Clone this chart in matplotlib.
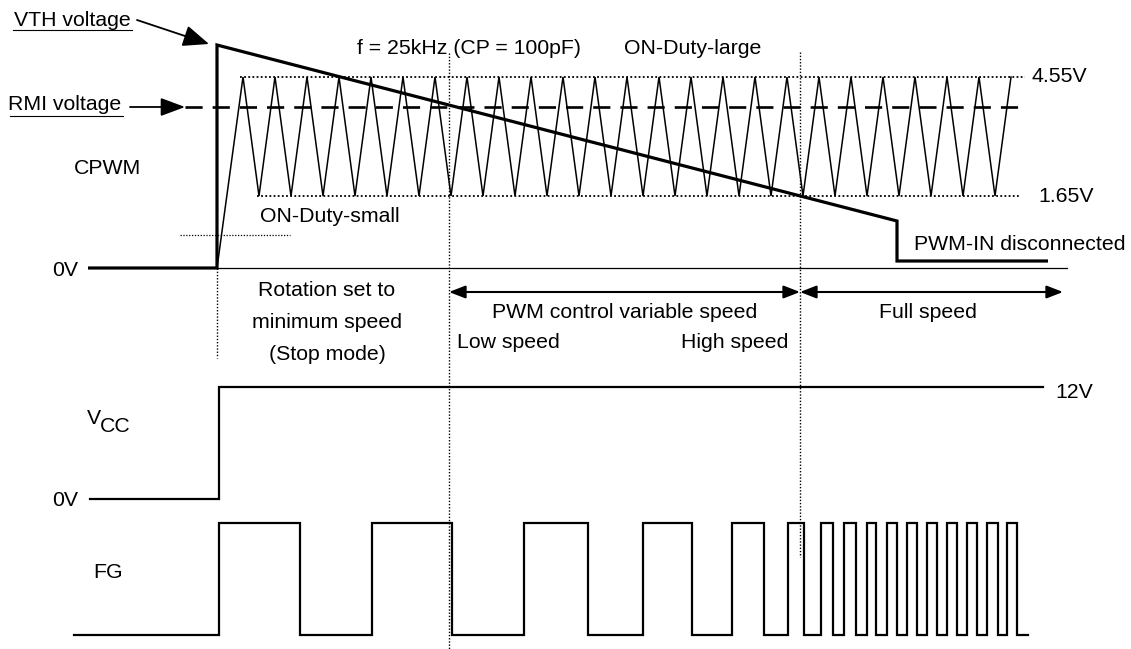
import matplotlib
matplotlib.use('Agg')
import matplotlib.pyplot as plt

plt.rcParams['font.family'] = ['Liberation Sans', 'DejaVu Sans']

# time axis and levels are in drawing units (left->right, top->bottom)
T_START = 88
T_ON = 217
T_FULL = 800
T_LOW = 449

# CPWM levels
LEVEL_0V = 268
LEVEL_455 = 77
LEVEL_165 = 196
LEVEL_RMI = 107

# VTH trace (thick)
vth_t = [88, 217, 217, 897, 897, 1048]
vth_v = [268, 268, 45, 221, 261, 261]

# triangle wave peaks / valleys
tri_peaks = [243, 275, 307, 339, 371, 403, 435, 467, 499, 531, 563, 595, 627,
             659, 691, 723, 755, 787, 819, 851, 883, 915, 947, 979, 1011]
tri_valleys = [259, 291, 323, 355, 387, 419, 451, 483, 515, 547, 579, 611,
               643, 675, 707, 739, 771, 803, 835, 867, 899, 931, 963, 995]

# VCC trace
vcc_t = [90, 219, 219, 1043]
vcc_v = [499, 499, 387, 387]

# FG edges (alternating rise / fall), starts low
fg_edges = [219, 300, 372, 452, 524, 588, 643, 692, 732, 764, 788, 804, 821,
            833, 844, 856, 867, 876, 887, 897, 907, 917, 927, 937, 947, 957,
            967, 977, 987, 998, 1007, 1017]
fg_start, fg_end = 74, 1028
fg_low, fg_high = 635, 523

FS = 15.3


def tri_path():
    xs = [T_ON]
    ys = [LEVEL_0V]
    for i, p in enumerate(tri_peaks):
        xs.append(p)
        ys.append(LEVEL_455)
        if i < len(tri_valleys):
            xs.append(tri_valleys[i])
            ys.append(LEVEL_165)
    return xs, ys


def fg_path():
    xs = [fg_start]
    ys = [fg_low]
    level = fg_low
    for e in fg_edges:
        xs.append(e)
        ys.append(level)
        level = fg_high if level == fg_low else fg_low
        xs.append(e)
        ys.append(level)
    xs.append(fg_end)
    ys.append(level)
    return xs, ys


def arrow(ax, start, end, style, scale, lw):
    ax.annotate('', xy=end, xytext=start,
                arrowprops=dict(arrowstyle=style, color='black', lw=lw,
                                mutation_scale=scale, shrinkA=0, shrinkB=0))


fig = plt.figure(figsize=(11.31, 6.49), dpi=100)
ax = fig.add_axes([0, 0, 1, 1])
ax.set_xlim(0, 1131)
ax.set_ylim(649, 0)
ax.axis('off')

dot = (0, (1, 1.3))

# dotted guides
ax.plot([T_ON, T_ON], [LEVEL_0V, 358], color='black', lw=1.0, ls=dot)
ax.plot([T_LOW, T_LOW], [53, 649], color='black', lw=1.0, ls=dot)
ax.plot([T_FULL, T_FULL], [52, 557], color='black', lw=1.0, ls=dot)
ax.plot([240, 1025], [LEVEL_455, LEVEL_455], color='black', lw=1.3, ls=dot)
ax.plot([257, 1020], [LEVEL_165, LEVEL_165], color='black', lw=1.3, ls=dot)
ax.plot([180, 290], [235, 235], color='black', lw=0.9, ls=dot)

# CPWM baseline
ax.plot([T_ON, 1067], [LEVEL_0V, LEVEL_0V], color='black', lw=0.9)

# triangle
tx, ty = tri_path()
ax.plot(tx, ty, color='black', lw=1.1, solid_joinstyle='miter')

# RMI dashed
ax.plot([185, 1020], [LEVEL_RMI, LEVEL_RMI], color='black', lw=1.9,
        dashes=(6.5, 3.8))

# VTH thick
ax.plot(vth_t, vth_v, color='black', lw=2.3, solid_joinstyle='miter',
        solid_capstyle='butt')

# VCC and FG
ax.plot(vcc_t, vcc_v, color='black', lw=1.6, solid_joinstyle='miter')
fx, fy = fg_path()
ax.plot(fx, fy, color='black', lw=1.6, solid_joinstyle='miter')

# pointer arrows
arrow(ax, (137, 20), (209, 44), '-|>,head_length=0.8,head_width=0.33', 20, 1.3)
arrow(ax, (130, 107), (185, 107), '-|>,head_length=0.75,head_width=0.28', 20, 1.3)
ax.plot([13, 132], [30, 30], color='black', lw=0.8)
ax.plot([10, 123], [116, 116], color='black', lw=0.8)

# dimension arrows
dim = '<|-|>,head_length=0.9,head_width=0.35'
arrow(ax, (T_LOW, 292), (T_FULL, 292), dim, 11, 1.5)
arrow(ax, (T_FULL, 292), (1063, 292), dim, 11, 1.5)

# texts
ax.text(14, 20, 'VTH voltage', fontsize=FS, va='center')
ax.text(8, 105, 'RMI voltage', fontsize=FS, va='center')
ax.text(74, 168, 'CPWM', fontsize=FS, va='center')
ax.text(52, 270, '0V', fontsize=FS, va='center')
ax.text(260, 217, 'ON-Duty-small', fontsize=FS, va='center')
ax.text(357, 48, 'f = 25kHz (CP = 100pF)', fontsize=FS, va='center')
ax.text(624, 48, 'ON-Duty-large', fontsize=FS, va='center')
ax.text(1031, 77, '4.55V', fontsize=FS, va='center')
ax.text(1038, 196, '1.65V', fontsize=FS, va='center')
ax.text(914, 245, 'PWM-IN disconnected', fontsize=FS, va='center')

ax.text(327, 290, 'Rotation set to', fontsize=FS, va='center', ha='center')
ax.text(327, 322, 'minimum speed', fontsize=FS, va='center', ha='center')
ax.text(327, 355, '(Stop mode)', fontsize=FS, va='center', ha='center')
ax.text(625, 312, 'PWM control variable speed', fontsize=FS, va='center', ha='center')
ax.text(457, 343, 'Low speed', fontsize=FS, va='center')
ax.text(788, 343, 'High speed', fontsize=FS, va='center', ha='right')
ax.text(928, 312, 'Full speed', fontsize=FS, va='center', ha='center')

ax.text(87, 419, 'V', fontsize=FS, va='center')
ax.text(100, 427, 'CC', fontsize=FS, va='center')
ax.text(1055, 392, '12V', fontsize=FS, va='center')
ax.text(52, 500, '0V', fontsize=FS, va='center')
ax.text(93, 573, 'FG', fontsize=FS, va='center')

plt.savefig('out.png', dpi=100)
